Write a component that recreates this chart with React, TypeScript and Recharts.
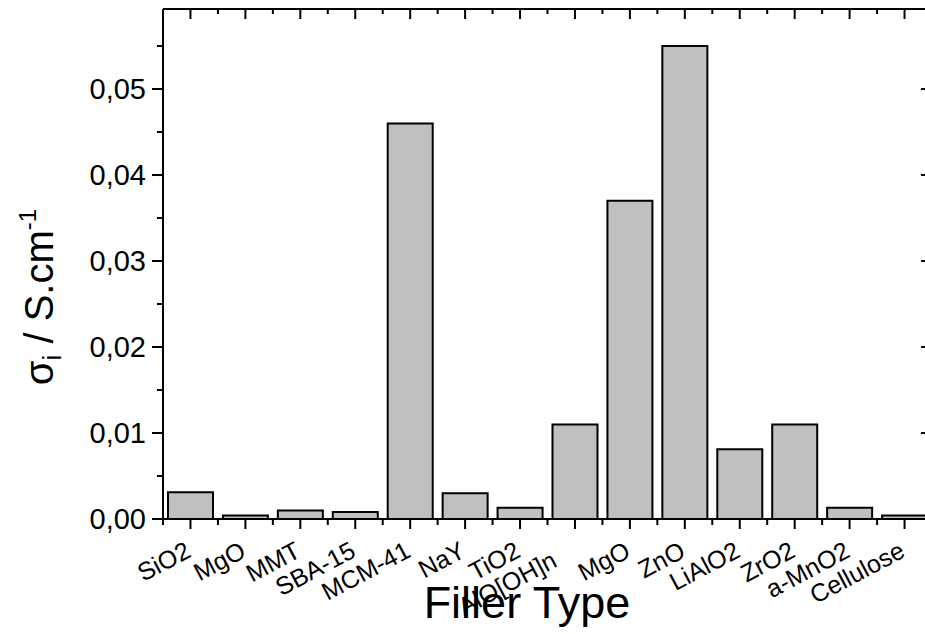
import React from 'react';
import { BarChart, Bar, XAxis, YAxis } from 'recharts';

const categories = ['SiO2', 'MgO', 'MMT', 'SBA-15', 'MCM-41', 'NaY', 'TiO2', 'AlO[OH]n\u00A0\u00A0\u00A0', 'MgO', 'ZnO', 'LiAlO2', 'ZrO2', 'a-MnO2', 'Cellulose'];
const conductivity = [0.0031, 0.0004, 0.001, 0.0008, 0.046, 0.003, 0.0013, 0.011, 0.037, 0.055, 0.0081, 0.011, 0.0013, 0.0004];
const yTicks = [0, 0.005, 0.01, 0.015, 0.02, 0.025, 0.03, 0.035, 0.04, 0.045, 0.05, 0.055];
const yDomain = [0, 0.0593];

const data = categories.map((name, i) => ({ idx: i, name, value: conductivity[i] }));

const FONT = '"Liberation Sans", Arial, Helvetica, sans-serif';
const isMajor = (v: number) => Math.round(v * 1000) % 10 === 0;
const fmt = (v: number) => v.toFixed(2).replace('.', ',');

const BottomTick = (props: any) => {
  const { x, y, payload, index, visibleTicksCount } = props;
  const half = payload && payload.offset ? payload.offset : 27.46;
  const tx = x + 2;
  const ty = y + 37;
  return (
    <g>
      <line x1={x} y1={y} x2={x} y2={y + 10} stroke="#000" strokeWidth={2} />
      <line x1={x - half} y1={y} x2={x - half} y2={y + 6} stroke="#000" strokeWidth={2} />
      {index === visibleTicksCount - 1 ? (
        <line x1={x + half} y1={y} x2={x + half} y2={y + 6} stroke="#000" strokeWidth={2} />
      ) : null}
      <text x={tx} y={ty} textAnchor="end" fontFamily={FONT} fontSize={25} fill="#000" transform={`rotate(-28, ${tx}, ${ty})`}>
        {categories[payload.value]}
      </text>
    </g>
  );
};

const TopTick = (props: any) => {
  const { x, y, payload, index, visibleTicksCount } = props;
  const half = payload && payload.offset ? payload.offset : 27.46;
  return (
    <g>
      <line x1={x} y1={y} x2={x} y2={y + 10} stroke="#000" strokeWidth={2} />
      <line x1={x - half} y1={y} x2={x - half} y2={y + 5} stroke="#000" strokeWidth={2} />
      {index === visibleTicksCount - 1 ? (
        <line x1={x + half} y1={y} x2={x + half} y2={y + 5} stroke="#000" strokeWidth={2} />
      ) : null}
    </g>
  );
};

const LeftTick = (props: any) => {
  const { x, y, payload } = props;
  const major = isMajor(payload.value);
  return (
    <g>
      <line x1={x} y1={y} x2={x - (major ? 11 : 6)} y2={y} stroke="#000" strokeWidth={2} />
      {major ? (
        <text x={x - 17} y={y} dy="0.355em" textAnchor="end" fontFamily={FONT} fontSize={29} fill="#000">
          {fmt(payload.value)}
        </text>
      ) : null}
    </g>
  );
};

const RightTick = (props: any) => {
  const { x, y, payload } = props;
  const major = isMajor(payload.value);
  return <line x1={x} y1={y} x2={x - (major ? 11 : 6)} y2={y} stroke="#000" strokeWidth={2} />;
};

const YTitle = (props: any) => {
  const vb = props.viewBox || { x: 0, y: 9, width: 163, height: 510 };
  const cx = vb.x + 53;
  const cy = vb.y + 288;
  return (
    <text x={cx} y={cy} transform={`rotate(-90, ${cx}, ${cy})`} textAnchor="middle" fontFamily={FONT} fontSize={40} fill="#000">
      σ
      <tspan fontSize={26} dy={8}>i</tspan>
      <tspan dy={-8}> / S.cm</tspan>
      <tspan fontSize={24} dy={-17}>-1</tspan>
    </text>
  );
};

const XTitle = (props: any) => {
  const vb = props.viewBox || { x: 163, y: 519, width: 769, height: 115 };
  return (
    <text x={vb.x + 364} y={vb.y + 99} textAnchor="middle" fontFamily={FONT} fontSize={45} fill="#000">
      Filler Type
    </text>
  );
};

export default function App() {
  return (
    <div style={{ position: 'fixed', left: 0, top: 0, width: 925, height: 634, overflow: 'hidden', background: '#fff' }}>
      <BarChart width={950} height={634} data={data} margin={{ top: 8, right: 17, bottom: 0, left: 0 }} barSize={45}>
        <XAxis
          xAxisId="main"
          dataKey="idx"
          type="category"
          interval={0}
          height={115}
          tickSize={0}
          tickMargin={0}
          axisLine={{ stroke: '#000', strokeWidth: 2 }}
          tickLine={false}
          tick={<BottomTick />}
          label={(p: any) => <XTitle {...p} />}
        />
        <XAxis
          xAxisId="top"
          orientation="top"
          dataKey="idx"
          type="category"
          interval={0}
          height={1}
          tickSize={0}
          tickMargin={0}
          axisLine={{ stroke: '#000', strokeWidth: 2 }}
          tickLine={false}
          tick={<TopTick />}
        />
        <YAxis
          yAxisId="left"
          type="number"
          domain={yDomain}
          ticks={yTicks}
          interval={0}
          width={163}
          tickSize={0}
          tickMargin={0}
          axisLine={{ stroke: '#000', strokeWidth: 2 }}
          tickLine={false}
          tick={<LeftTick />}
          allowDataOverflow
          label={(p: any) => <YTitle {...p} />}
        />
        <YAxis
          yAxisId="right"
          orientation="right"
          type="number"
          domain={yDomain}
          ticks={yTicks}
          interval={0}
          width={1}
          tickSize={0}
          tickMargin={0}
          axisLine={{ stroke: '#000', strokeWidth: 2 }}
          tickLine={false}
          tick={<RightTick />}
          allowDataOverflow
        />
        <Bar xAxisId="main" yAxisId="left" dataKey="value" fill="#c0c0c0" stroke="#000" strokeWidth={2} isAnimationActive={false} />
      </BarChart>
    </div>
  );
}
